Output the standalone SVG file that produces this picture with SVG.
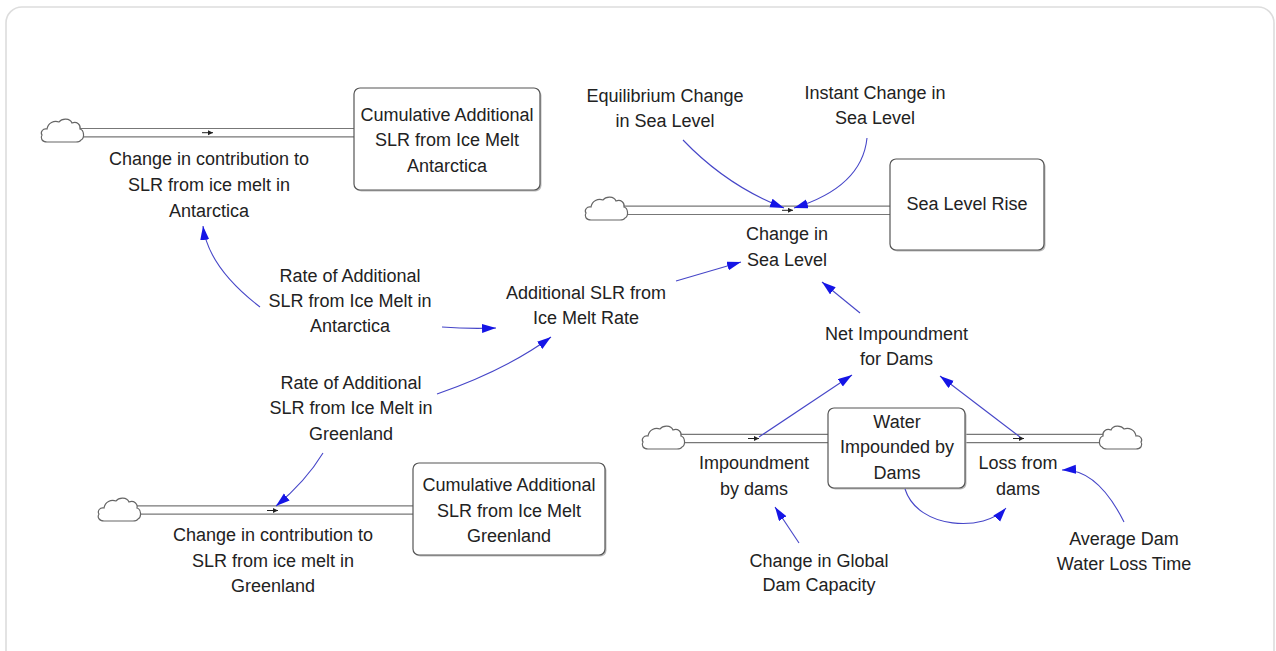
<svg xmlns="http://www.w3.org/2000/svg" width="1276" height="651" viewBox="0 0 1276 651">
<style>
text{font-family:"Liberation Sans",Arial,sans-serif;font-size:18px;fill:#222;text-anchor:middle}
.stock rect.box{fill:#fff;stroke:#555;stroke-width:1.2}
.stock rect.sh{fill:#bbb;stroke:none}
.pipeo{fill:none;stroke:#777;stroke-width:9.6}
.pipei{fill:none;stroke:#fff;stroke-width:7.2}
.cloud{fill:#fff;stroke:#666;stroke-width:1.2}
.valve{fill:none;stroke:#222;stroke-width:1;marker-end:url(#va)}
.link{fill:none;stroke:#4646c8;stroke-width:1.1;marker-end:url(#ah)}
</style>
<defs>
<marker id="ah" markerUnits="userSpaceOnUse" markerWidth="15" markerHeight="10" refX="14" refY="4.5" orient="auto"><path d="M0,0 L14,4.5 L0,9 z" fill="#1515e6"/></marker>
<marker id="va" markerUnits="userSpaceOnUse" markerWidth="6" markerHeight="6" refX="5" refY="2.5" orient="auto"><path d="M0,0 L5,2.5 L0,5 z" fill="#222"/></marker>
<path id="cl" d="M7,24 C2,24 0,20 2,17 C0,14 3,10 7,11 C8,5 14,2 19,4 C22,0 30,0 32,5 C37,3 41,7 40,11 C44,12 45,20 41,22 C40,24 38,24 36,24 Z"/>
</defs>
<rect x="6" y="7" width="1268" height="670" rx="16" fill="#fff" stroke="#ddd" stroke-width="1.6"/>

<g id="flows">
<path class="pipeo" d="M80,132.7 H356"/><path class="pipei" d="M80,132.7 H356"/>
<path class="pipeo" d="M624,210.3 H892"/><path class="pipei" d="M624,210.3 H892"/>
<path class="pipeo" d="M680,438.5 H830"/><path class="pipei" d="M680,438.5 H830"/>
<path class="pipeo" d="M963,438.5 H1103"/><path class="pipei" d="M963,438.5 H1103"/>
<path class="pipeo" d="M137,510 H415"/><path class="pipei" d="M137,510 H415"/>
<use href="#cl" class="cloud" transform="translate(40,118)"/>
<use href="#cl" class="cloud" transform="translate(584,196)"/>
<use href="#cl" class="cloud" transform="translate(641,425)"/>
<use href="#cl" class="cloud" transform="translate(1143,425) scale(-1,1)"/>
<use href="#cl" class="cloud" transform="translate(97,497)"/>
<path class="valve" d="M202,132.7 H213"/>
<path class="valve" d="M782,210.3 H793"/>
<path class="valve" d="M748,438.5 H759"/>
<path class="valve" d="M1013,438.5 H1024"/>
<path class="valve" d="M267,510.5 H278"/>
</g>

<g id="stock-antarctica" class="stock">
<rect class="sh" x="355.5" y="89.5" width="186" height="102" rx="6"/>
<rect class="box" x="354" y="88" width="186" height="102" rx="6"/>
<text x="447" y="120.5">Cumulative Additional</text>
<text x="447" y="146">SLR from Ice Melt</text>
<text x="447" y="171.5">Antarctica</text>
</g>
<g id="stock-sealevel" class="stock">
<rect class="sh" x="891.5" y="160.5" width="154" height="91" rx="6"/>
<rect class="box" x="890" y="159" width="154" height="91" rx="6"/>
<text x="967" y="210">Sea Level Rise</text>
</g>
<g id="stock-water" class="stock">
<rect class="sh" x="829.5" y="409.5" width="137" height="80" rx="6"/>
<rect class="box" x="828" y="408" width="137" height="80" rx="6"/>
<text x="897" y="427.5">Water</text>
<text x="897" y="453">Impounded by</text>
<text x="897" y="478.5">Dams</text>
</g>
<g id="stock-greenland" class="stock">
<rect class="sh" x="414.5" y="464.5" width="192" height="92" rx="6"/>
<rect class="box" x="413" y="463" width="192" height="92" rx="6"/>
<text x="509" y="491">Cumulative Additional</text>
<text x="509" y="516.5">SLR from Ice Melt</text>
<text x="509" y="542">Greenland</text>
</g>

<g id="flow-antarctica"><text x="209" y="165">Change in contribution to</text><text x="209" y="191">SLR from ice melt in</text><text x="209" y="216.5">Antarctica</text></g>
<g id="flow-sealevel"><text x="787" y="240">Change in</text><text x="787" y="266">Sea Level</text></g>
<g id="flow-impound"><text x="754" y="469">Impoundment</text><text x="754" y="494.5">by dams</text></g>
<g id="flow-loss"><text x="1018" y="469">Loss from</text><text x="1018" y="494.5">dams</text></g>
<g id="flow-greenland"><text x="273" y="541">Change in contribution to</text><text x="273" y="566.5">SLR from ice melt in</text><text x="273" y="592">Greenland</text></g>

<g id="aux-equilibrium"><text x="665" y="101.5">Equilibrium Change</text><text x="665" y="127">in Sea Level</text></g>
<g id="aux-instant"><text x="875" y="98.5">Instant Change in</text><text x="875" y="124">Sea Level</text></g>
<g id="aux-rate-antarctica"><text x="350" y="281.5">Rate of Additional</text><text x="350" y="307">SLR from Ice Melt in</text><text x="350" y="332">Antarctica</text></g>
<g id="aux-additional"><text x="586" y="298.5">Additional SLR from</text><text x="586" y="324">Ice Melt Rate</text></g>
<g id="aux-rate-greenland"><text x="351" y="388.5">Rate of Additional</text><text x="351" y="414">SLR from Ice Melt in</text><text x="351" y="439.5">Greenland</text></g>
<g id="aux-net"><text x="896.5" y="339.5">Net Impoundment</text><text x="896.5" y="365">for Dams</text></g>
<g id="aux-global"><text x="819" y="566.5">Change in Global</text><text x="819" y="591">Dam Capacity</text></g>
<g id="aux-avg"><text x="1124" y="544.5">Average Dam</text><text x="1124" y="570">Water Loss Time</text></g>

<g id="connectors">
<path class="link" d="M683,140 Q727,186 784,208"/>
<path class="link" d="M867,138 Q862,187 794,208"/>
<path class="link" d="M260,307 Q208,267 203,226"/>
<path class="link" d="M442,327 Q468,329 496,328"/>
<path class="link" d="M437,394 Q506,370 551,337"/>
<path class="link" d="M676,281 L741,262"/>
<path class="link" d="M860,313 L822,282"/>
<path class="link" d="M759,437 L852,375"/>
<path class="link" d="M1020,437 L940,376"/>
<path class="link" d="M323,453 Q306,481 276,506"/>
<path class="link" d="M905,489 C918,530 985,532 1006,508"/>
<path class="link" d="M1124,522 Q1097,468 1062,470"/>
<path class="link" d="M799,543 L775,507"/>
</g>
</svg>
